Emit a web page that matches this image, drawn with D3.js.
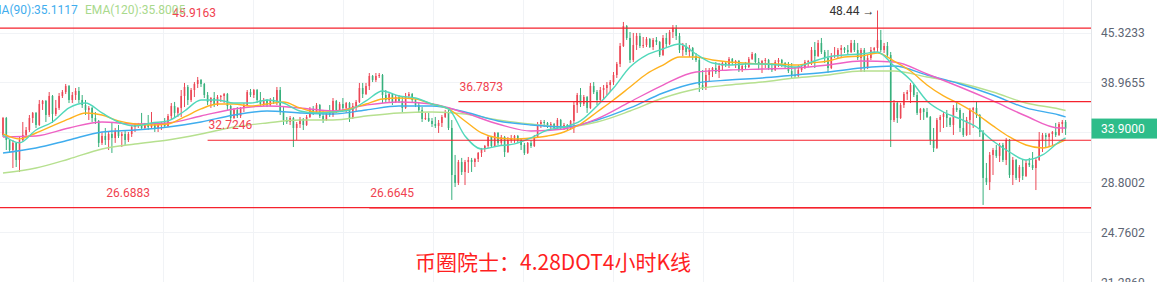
<!DOCTYPE html>
<html>
<head>
<meta charset="utf-8">
<script src="https://cdn.jsdelivr.net/npm/d3@7/dist/d3.min.js"></script>
<style>
    html, body { margin: 0; padding: 0; background: #fff; }
    svg { display: block; font-family: Roboto, "Noto Sans", sans-serif; }
</style>
</head>
<body>
<div id="chart"></div>
<script>
// 4h candles, oldest first
var opens = [
    33.25, 35.00, 32.75, 31.77, 32.46, 30.83, 32.75, 33.25, 33.75, 35.00,
    35.54, 34.27, 36.51, 36.85, 35.32, 37.41, 35.43, 36.08, 37.41, 37.86,
    38.55, 36.96, 37.52, 37.98, 36.96, 36.40, 35.86, 36.08, 35.00, 34.69,
    32.46, 33.15, 32.75, 33.35, 32.95, 33.65, 33.15, 33.35, 32.75, 33.35,
    34.06, 34.27, 34.37, 33.96, 34.27, 34.06, 34.37, 33.96, 34.27, 34.48,
    34.17, 35.21, 36.29, 35.54, 36.08, 37.41, 38.44, 36.96, 38.09, 38.79,
    39.26, 38.79, 37.52, 36.74, 37.18, 36.40, 37.29, 37.41, 37.63, 36.29,
    35.00, 35.86, 35.21, 36.08, 36.40, 37.86, 37.52, 38.09, 36.96, 36.51,
    36.96, 36.40, 36.96, 36.74, 38.09, 35.64, 34.79, 34.58, 35.00, 33.96,
    34.37, 34.90, 34.27, 35.11, 35.97, 35.64, 36.40, 35.21, 34.79, 35.54,
    35.32, 36.85, 35.86, 36.51, 36.08, 36.62, 35.00, 36.29, 36.74, 38.32,
    37.63, 38.55, 39.74, 39.26, 39.74, 39.86, 37.52, 36.96, 37.63, 36.74,
    37.29, 36.85, 36.08, 37.41, 37.63, 36.96, 36.40, 35.86, 34.90, 35.00,
    34.69, 34.37, 34.17, 34.48, 35.11, 35.64, 33.96, 29.46, 28.76, 30.64,
    29.73, 30.64, 30.83, 30.64, 30.92, 31.49, 31.87, 32.16, 33.05, 32.16,
    33.45, 32.46, 33.05, 31.58, 32.75, 32.95, 33.15, 32.75, 32.26, 31.49,
    32.46, 32.16, 33.05, 34.37, 34.58, 34.48, 34.06, 34.37, 33.96, 34.79,
    34.17, 34.27, 33.96, 34.69, 36.40, 37.52, 36.51, 37.29, 36.08, 38.55,
    37.86, 36.96, 38.09, 38.32, 38.67, 39.02, 39.86, 41.21, 43.51, 46.22,
    44.58, 41.71, 43.64, 44.85, 43.51, 43.64, 44.44, 43.38, 44.31, 44.04,
    42.34, 44.58, 43.77, 45.39, 45.95, 44.85, 42.99, 43.51, 42.73, 43.25,
    42.21, 41.71, 38.67, 38.32, 39.86, 40.46, 40.71, 40.22, 40.96, 41.33,
    41.08, 41.84, 41.33, 41.58, 40.46, 40.96, 40.83, 41.84, 42.47, 41.46,
    41.21, 41.58, 41.71, 40.71, 40.46, 41.46, 41.71, 41.33, 40.96, 40.34,
    39.86, 39.74, 40.46, 40.71, 41.46, 41.58, 42.99, 42.21, 43.91, 42.73,
    41.96, 40.71, 42.21, 42.34, 42.99, 43.25, 42.99, 42.73, 43.91, 42.99,
    41.96, 42.99, 40.71, 41.96, 42.99, 43.25, 44.31, 42.99, 43.51, 42.34,
    34.79, 36.62, 35.00, 36.40, 37.63, 37.86, 38.67, 37.52, 35.54, 35.97,
    35.64, 35.11, 32.75, 31.97, 34.79, 35.11, 35.43, 35.00, 34.27, 36.08,
    35.86, 33.96, 33.25, 34.79, 35.86, 36.08, 35.32, 33.55, 29.20, 28.84,
    31.30, 31.77, 31.21, 32.26, 30.83, 32.75, 29.46, 30.83, 29.20, 30.18,
    29.37, 30.55, 30.36, 30.09, 30.83, 32.75, 33.25, 33.05, 33.35, 33.55,
    33.25, 34.37, 34.58
];
var highs = [
    35.11, 35.11, 32.85, 32.75, 32.55, 33.05, 34.58, 34.06, 35.32, 35.64,
    35.64, 36.96, 36.96, 36.96, 37.86, 37.52, 36.96, 37.75, 38.09, 38.79,
    38.67, 37.86, 38.32, 38.44, 37.52, 36.96, 36.29, 36.18, 35.64, 34.79,
    33.55, 33.96, 33.55, 34.48, 33.96, 34.27, 33.55, 33.75, 33.55, 34.27,
    34.48, 34.48, 35.54, 34.48, 35.32, 35.64, 34.58, 34.48, 34.58, 35.00,
    35.43, 36.62, 36.74, 36.18, 38.09, 38.91, 38.67, 38.32, 39.02, 39.62,
    39.38, 38.91, 37.86, 37.29, 37.86, 37.52, 37.52, 37.75, 37.75, 36.40,
    36.08, 36.18, 36.18, 36.62, 38.09, 38.21, 38.21, 38.21, 37.86, 37.18,
    37.07, 37.18, 37.29, 38.44, 38.44, 36.18, 35.11, 35.21, 35.11, 34.58,
    35.11, 35.00, 35.32, 36.18, 36.29, 36.62, 36.51, 35.86, 35.64, 36.40,
    37.18, 36.96, 36.74, 37.18, 36.74, 36.74, 36.62, 36.96, 38.91, 38.91,
    38.91, 40.10, 39.86, 40.10, 40.10, 39.98, 38.09, 37.86, 37.75, 37.52,
    37.52, 37.29, 37.75, 37.86, 37.75, 37.07, 36.74, 36.18, 35.54, 35.54,
    35.00, 35.11, 34.79, 35.32, 35.86, 35.86, 34.79, 31.30, 30.83, 31.02,
    30.83, 31.11, 31.02, 31.02, 31.58, 31.97, 32.26, 33.25, 33.15, 33.55,
    33.55, 33.25, 33.15, 33.05, 33.25, 33.25, 33.25, 32.95, 32.46, 32.55,
    32.75, 33.25, 34.58, 34.79, 34.79, 34.58, 34.58, 34.48, 35.00, 34.90,
    34.48, 34.37, 34.79, 36.74, 37.75, 38.32, 37.52, 37.41, 38.91, 39.02,
    38.09, 38.44, 38.67, 39.02, 39.26, 40.22, 41.46, 43.91, 46.79, 46.36,
    45.39, 45.26, 45.26, 45.26, 44.71, 44.71, 44.58, 44.58, 44.71, 44.18,
    44.98, 45.26, 45.67, 46.36, 46.36, 45.26, 43.91, 43.91, 43.64, 43.38,
    42.60, 41.96, 40.46, 40.71, 40.71, 40.83, 41.46, 41.33, 41.46, 41.46,
    42.09, 41.96, 41.71, 41.71, 41.08, 41.46, 42.09, 42.73, 42.60, 41.96,
    41.71, 41.96, 41.84, 41.33, 41.71, 41.96, 41.84, 41.46, 41.46, 41.33,
    40.83, 41.08, 41.08, 41.71, 41.71, 43.38, 44.04, 44.31, 44.58, 42.99,
    42.99, 42.60, 43.38, 43.25, 43.64, 43.38, 43.64, 44.31, 44.31, 43.91,
    43.25, 43.25, 42.34, 43.38, 43.38, 48.44, 45.67, 43.91, 44.04, 42.73,
    36.96, 36.74, 36.62, 37.86, 38.09, 38.91, 38.79, 37.86, 36.08, 36.08,
    36.08, 35.21, 33.96, 35.00, 35.32, 35.64, 35.86, 35.11, 36.40, 36.62,
    36.08, 35.54, 35.11, 36.08, 36.18, 36.74, 35.43, 33.75, 30.55, 31.58,
    31.97, 32.26, 32.46, 32.46, 32.95, 32.85, 31.11, 30.92, 30.36, 30.83,
    30.83, 31.02, 31.58, 31.02, 33.55, 33.45, 33.45, 33.45, 33.65, 34.48,
    34.58, 34.79, 34.79
];
var lows = [
    33.05, 31.77, 31.49, 30.09, 30.18, 29.73, 32.55, 33.05, 33.55, 34.48,
    33.96, 34.17, 35.86, 34.58, 35.11, 34.48, 35.21, 35.86, 37.18, 37.63,
    36.62, 36.62, 36.96, 36.62, 36.08, 35.32, 34.79, 34.58, 34.37, 32.06,
    32.26, 32.26, 31.77, 31.49, 32.46, 32.95, 32.06, 32.26, 32.55, 33.05,
    33.55, 33.96, 33.75, 33.75, 33.75, 33.96, 33.55, 33.55, 33.75, 34.06,
    34.06, 34.79, 35.11, 35.11, 35.11, 36.18, 36.40, 36.74, 37.29, 38.32,
    38.44, 37.18, 36.40, 36.08, 36.18, 36.29, 36.74, 36.62, 35.86, 34.79,
    34.90, 35.00, 35.00, 35.64, 36.29, 37.29, 37.18, 36.62, 36.18, 36.29,
    36.18, 36.29, 36.51, 36.40, 35.32, 34.27, 34.37, 34.27, 32.06, 32.75,
    33.96, 33.75, 34.17, 35.00, 35.32, 35.43, 35.00, 34.48, 34.69, 35.11,
    35.11, 35.54, 35.75, 35.86, 35.54, 34.58, 34.90, 35.64, 36.62, 37.18,
    37.52, 38.09, 39.02, 39.02, 39.50, 36.62, 36.62, 36.74, 36.40, 36.62,
    36.62, 35.64, 35.97, 37.18, 36.74, 36.18, 35.54, 34.58, 34.79, 34.58,
    34.06, 33.96, 33.45, 34.06, 35.00, 33.75, 27.32, 28.41, 28.58, 29.46,
    28.58, 29.64, 29.73, 30.18, 30.64, 31.11, 31.58, 31.97, 31.97, 32.06,
    32.26, 32.26, 31.11, 31.49, 32.46, 32.46, 32.46, 31.77, 31.30, 31.39,
    31.97, 32.06, 32.95, 33.96, 34.06, 33.96, 33.75, 33.75, 33.85, 33.75,
    33.75, 33.75, 33.75, 33.45, 35.54, 36.18, 36.29, 35.54, 35.97, 37.63,
    36.40, 36.85, 36.96, 37.52, 37.86, 38.67, 39.50, 40.83, 43.38, 44.31,
    41.33, 41.46, 42.99, 43.25, 43.25, 43.38, 43.25, 42.99, 43.64, 42.09,
    42.21, 43.38, 43.64, 44.58, 44.31, 42.60, 42.21, 42.34, 42.09, 41.71,
    41.46, 37.86, 38.09, 38.09, 39.02, 39.62, 39.98, 39.50, 40.46, 40.83,
    40.71, 41.08, 40.71, 40.22, 40.22, 40.58, 40.71, 41.71, 41.21, 40.46,
    40.10, 40.71, 40.46, 40.22, 40.34, 40.83, 40.83, 40.71, 40.10, 39.50,
    39.50, 39.62, 40.22, 40.58, 40.83, 41.08, 40.71, 42.09, 42.47, 41.33,
    40.10, 40.58, 41.96, 41.96, 42.09, 42.60, 42.34, 42.60, 42.73, 41.71,
    40.22, 40.22, 40.58, 41.71, 42.60, 42.73, 42.73, 42.60, 42.09, 32.06,
    34.58, 34.48, 34.90, 36.08, 36.96, 36.62, 37.29, 35.32, 34.79, 34.79,
    35.00, 32.26, 31.58, 31.87, 33.55, 33.96, 34.06, 34.06, 33.25, 35.64,
    33.55, 33.05, 33.15, 33.25, 33.96, 35.00, 33.05, 26.91, 28.58, 28.15,
    29.46, 31.02, 30.64, 30.64, 30.36, 29.20, 28.58, 29.02, 28.84, 29.02,
    29.28, 30.18, 29.91, 28.15, 30.74, 31.58, 31.97, 32.06, 32.26, 33.05,
    33.15, 33.45, 33.25
];
var closes = [
    35.00, 32.75, 31.77, 32.46, 30.83, 32.75, 33.25, 33.75, 35.00, 35.54,
    34.27, 36.51, 36.85, 35.32, 37.41, 35.43, 36.08, 37.41, 37.86, 38.55,
    36.96, 37.52, 37.98, 36.96, 36.40, 35.86, 36.08, 35.00, 34.69, 32.46,
    33.15, 32.75, 33.35, 32.95, 33.65, 33.15, 33.35, 32.75, 33.35, 34.06,
    34.27, 34.37, 33.96, 34.27, 34.06, 34.37, 33.96, 34.27, 34.48, 34.17,
    35.21, 36.29, 35.54, 36.08, 37.41, 38.44, 36.96, 38.09, 38.79, 39.26,
    38.79, 37.52, 36.74, 37.18, 36.40, 37.29, 37.41, 37.63, 36.29, 35.00,
    35.86, 35.21, 36.08, 36.40, 37.86, 37.52, 38.09, 36.96, 36.51, 36.96,
    36.40, 36.96, 36.74, 38.09, 35.64, 34.79, 34.58, 35.00, 33.96, 34.37,
    34.90, 34.27, 35.11, 35.97, 35.64, 36.40, 35.21, 34.79, 35.54, 35.32,
    36.85, 35.86, 36.51, 36.08, 36.62, 35.00, 36.29, 36.74, 38.32, 37.63,
    38.55, 39.74, 39.26, 39.74, 39.86, 37.52, 36.96, 37.63, 36.74, 37.29,
    36.85, 36.08, 37.41, 37.63, 36.96, 36.40, 35.86, 34.90, 35.00, 34.69,
    34.37, 34.17, 34.48, 35.11, 35.64, 33.96, 29.46, 28.76, 30.64, 29.73,
    30.64, 30.83, 30.64, 30.92, 31.49, 31.87, 32.16, 33.05, 32.16, 33.45,
    32.46, 33.05, 31.58, 32.75, 32.95, 33.15, 32.75, 32.26, 31.49, 32.46,
    32.16, 33.05, 34.37, 34.58, 34.48, 34.06, 34.37, 33.96, 34.79, 34.17,
    34.27, 33.96, 34.69, 36.40, 37.52, 36.51, 37.29, 36.08, 38.55, 37.86,
    36.96, 38.09, 38.32, 38.67, 39.02, 39.86, 41.21, 43.51, 46.22, 44.58,
    41.71, 43.64, 44.85, 43.51, 43.64, 44.44, 43.38, 44.31, 44.04, 42.34,
    44.58, 43.77, 45.39, 45.95, 44.85, 42.99, 43.51, 42.73, 43.25, 42.21,
    41.71, 38.67, 38.32, 39.86, 40.46, 40.71, 40.22, 40.96, 41.33, 41.08,
    41.84, 41.33, 41.58, 40.46, 40.96, 40.83, 41.84, 42.47, 41.46, 41.21,
    41.58, 41.71, 40.71, 40.46, 41.46, 41.71, 41.33, 40.96, 40.34, 39.86,
    39.74, 40.46, 40.71, 41.46, 41.58, 42.99, 42.21, 43.91, 42.73, 41.96,
    40.71, 42.21, 42.34, 42.99, 43.25, 42.99, 42.73, 43.91, 42.99, 41.96,
    42.99, 40.71, 41.96, 42.99, 43.25, 44.31, 42.99, 43.51, 42.34, 34.79,
    36.62, 35.00, 36.40, 37.63, 37.86, 38.67, 37.52, 35.54, 35.97, 35.64,
    35.11, 32.75, 31.97, 34.79, 35.11, 35.43, 35.00, 34.27, 36.08, 35.86,
    33.96, 33.25, 34.79, 35.86, 36.08, 35.32, 33.55, 29.20, 28.84, 31.30,
    31.77, 31.21, 32.26, 30.83, 32.75, 29.46, 30.83, 29.20, 30.18, 29.37,
    30.55, 30.36, 30.09, 30.83, 32.75, 33.25, 33.05, 33.35, 33.55, 33.25,
    34.37, 34.58, 33.90
];

// moving average lines, read at every 5th / 10th candle
var fastIdx = [0, 5, 10, 15, 20, 25, 30, 35, 40, 45, 50, 55, 60, 65, 70, 75, 80, 85, 90, 95,
    100, 105, 110, 115, 120, 125, 130, 135, 140, 145, 150, 155, 160, 165, 170, 175, 180, 185, 190, 195,
    200, 205, 210, 215, 220, 225, 230, 235, 240, 245, 250, 255, 260, 265, 270, 275, 280, 285, 290, 295,
    300, 305, 310, 315, 320, 322];
var slowIdx = [0, 10, 20, 30, 40, 50, 60, 70, 80, 90, 100, 110, 120, 130, 140, 150, 160, 170, 180, 190,
    200, 210, 220, 230, 240, 250, 260, 270, 280, 290, 300, 310, 320, 322];

var maTeal = [
    33.25, 32.46, 33.75, 34.58, 36.08, 36.62, 35.54, 34.58, 34.17, 34.48,
    34.69, 35.75, 36.96, 36.96, 36.62, 36.62, 36.96, 36.62, 35.75, 35.54,
    35.64, 35.86, 36.85, 37.98, 37.41, 37.18, 36.51, 35.97, 33.15, 31.87,
    32.16, 32.36, 32.95, 33.75, 34.06, 34.69, 36.29, 38.32, 40.83, 42.34,
    43.12, 43.77, 42.47, 41.33, 41.08, 41.21, 41.21, 41.08, 40.83, 41.46,
    42.09, 42.34, 42.47, 42.73, 40.96, 39.26, 36.85, 35.64, 34.90, 34.06,
    32.65, 31.58, 30.83, 31.30, 32.55, 32.95
];
var maOrange = [
    33.35, 32.85, 33.45, 34.17, 34.90, 35.54, 35.32, 34.69, 34.37, 34.27,
    34.37, 35.11, 35.97, 36.51, 36.51, 36.29, 36.51, 36.74, 36.08, 35.64,
    35.64, 35.97, 36.51, 37.07, 37.18, 37.07, 36.51, 35.97, 34.69, 33.45,
    32.95, 32.85, 32.95, 33.15, 33.55, 34.37, 35.64, 36.96, 38.44, 39.98,
    41.08, 42.09, 42.09, 41.71, 41.46, 41.33, 41.21, 41.21, 41.08, 41.33,
    41.58, 42.09, 42.21, 42.60, 41.58, 40.34, 38.67, 37.41, 36.51, 35.43,
    34.17, 33.05, 32.26, 31.97, 32.46, 32.75
];
var maPink = [
    33.05, 33.15, 33.96, 34.58, 34.37, 34.48, 35.21, 35.97, 36.29, 36.08,
    35.75, 36.40, 36.74, 36.51, 35.54, 34.37, 33.65, 33.85, 34.90, 36.74,
    38.67, 40.22, 40.46, 40.58, 40.71, 41.08, 41.58, 41.46, 39.98, 38.44,
    36.85, 35.21, 33.96, 33.96
];
var ma90 = [
    31.49, 31.97, 32.75, 33.55, 33.75, 34.06, 34.58, 35.32, 35.75, 35.54,
    35.43, 35.86, 36.29, 36.29, 35.64, 34.69, 34.27, 34.06, 34.79, 36.08,
    37.75, 38.91, 39.26, 39.50, 39.86, 40.22, 40.71, 40.96, 39.86, 38.79,
    37.52, 36.08, 35.32, 35.11
];
var ema120 = [
    29.64, 30.09, 30.92, 31.87, 32.36, 32.75, 33.35, 34.06, 34.48, 34.79,
    34.79, 35.21, 35.54, 35.64, 35.43, 34.79, 34.37, 34.06, 34.58, 35.75,
    37.18, 38.21, 38.67, 39.02, 39.50, 39.86, 40.34, 40.34, 39.62, 38.91,
    37.86, 36.62, 35.97, 35.80
];

var legendLabels = ["MA(90):35.1117", "EMA(120):35.8005"];

// price axis ticks (log spaced)
var priceTicks = [45.3233, 38.9655, 33.4995, 28.8002, 24.7602, 21.2860];

// drawn horizontal levels; null start = line across the whole chart
var levelValues = [45.9163, 36.7873, 32.7246, 26.6883, 26.6645];
var levelStart = [null, 138, 62, null, 111];
var levelLabelAt = [51, 138, 62, 31, 111];

var highNote = "48.44 \u2192";
var titleText = "币圈院士：4.28DOT4小时K线";

// layout
var width = 1157, height = 282;
var axisX = 1091;
var upColor = "#eb4755", downColor = "#37b07c";

var svg = d3.select("#chart").append("svg")
    .attr("width", width)
    .attr("height", height);

svg.append("rect").attr("width", width).attr("height", height).attr("fill", "#fff");

// scales
var xScale = d3.scaleLinear().domain([0, closes.length - 1]).range([3, 1065.6]);
var yScale = d3.scaleLog().domain([21.2860, 45.3233]).range([282.5, 32.5]);

// grid
var grid = svg.append("g").attr("class", "grid");
grid.selectAll(".vgrid")
    .data(d3.range(73, axisX, 90))
    .enter().append("line")
    .attr("x1", d => d + 0.5).attr("x2", d => d + 0.5)
    .attr("y1", 0).attr("y2", height)
    .attr("stroke", "#f1f3f6");
grid.selectAll(".hgrid")
    .data(priceTicks)
    .enter().append("line")
    .attr("x1", 0).attr("x2", axisX)
    .attr("y1", d => Math.round(yScale(d)) + 0.5)
    .attr("y2", d => Math.round(yScale(d)) + 0.5)
    .attr("stroke", "#f1f3f6");

// right axis
var yAxis = svg.append("g")
    .attr("transform", "translate(" + axisX + ",0)")
    .call(d3.axisRight(yScale).tickValues(priceTicks).tickFormat(d3.format(".4f")).tickSize(0).tickPadding(10));
yAxis.select(".domain").attr("stroke", "#e3e6ea").attr("d", "M0.5,0V" + height);
yAxis.selectAll("text")
    .attr("fill", "#5d6573")
    .style("font-size", "12px")
    .style("font-family", "Roboto, sans-serif");

// candles
var candleData = closes.map(function(c, i) {
    return { i: i, o: opens[i], h: highs[i], l: lows[i], c: c };
});
var candles = svg.append("g").attr("class", "candles");
candles.selectAll(".wick")
    .data(candleData)
    .enter().append("line")
    .attr("x1", d => xScale(d.i)).attr("x2", d => xScale(d.i))
    .attr("y1", d => yScale(d.h)).attr("y2", d => yScale(d.l))
    .attr("stroke", d => d.c >= d.o ? upColor : downColor)
    .attr("stroke-width", 1);
candles.selectAll(".body")
    .data(candleData)
    .enter().append("rect")
    .attr("x", d => xScale(d.i) - 0.8)
    .attr("width", 1.6)
    .attr("y", d => yScale(Math.max(d.o, d.c)))
    .attr("height", d => Math.max(1, yScale(Math.min(d.o, d.c)) - yScale(Math.max(d.o, d.c))))
    .attr("fill", d => d.c >= d.o ? upColor : downColor);

// moving averages
function drawLine(idx, values, color) {
    var line = d3.line()
        .x((d, k) => xScale(idx[k]))
        .y(d => yScale(d))
        .curve(d3.curveMonotoneX);
    svg.append("path")
        .datum(values)
        .attr("d", line)
        .attr("fill", "none")
        .attr("stroke", color)
        .attr("stroke-width", 1.4);
}
drawLine(slowIdx, ema120, "#b6e08f");
drawLine(slowIdx, ma90, "#3fadee");
drawLine(slowIdx, maPink, "#ee62c4");
drawLine(fastIdx, maOrange, "#ffb21f");
drawLine(fastIdx, maTeal, "#52d8bb");

// horizontal levels
var levels = svg.append("g").attr("class", "levels");
levelValues.forEach(function(v, k) {
    var yy = yScale(v);
    var x0 = levelStart[k] === null ? 0 : xScale(levelStart[k]);
    levels.append("line")
        .attr("x1", x0).attr("x2", axisX)
        .attr("y1", yy).attr("y2", yy)
        .attr("stroke", "#f5222d")
        .attr("stroke-width", 1.2);
    levels.append("text")
        .attr("x", xScale(levelLabelAt[k]) + 1)
        .attr("y", yy - 11)
        .attr("fill", "#f0424f")
        .style("font-size", "12px")
        .text(v.toFixed(4));
});

// highest price note
var hiIdx = d3.maxIndex(highs);
svg.append("text")
    .attr("x", xScale(hiIdx) - 3)
    .attr("y", yScale(highs[hiIdx]) + 4)
    .attr("text-anchor", "end")
    .attr("fill", "#333")
    .style("font-size", "12px")
    .text(highNote);

// legend (scrolled partly off the left edge)
var legend = svg.append("g").attr("class", "legend");
legend.append("text")
    .attr("x", -9).attr("y", 14)
    .attr("fill", "#3fadee")
    .style("font-size", "12px")
    .text(legendLabels[0]);
legend.append("text")
    .attr("x", 85).attr("y", 14)
    .attr("fill", "#a9d98c")
    .style("font-size", "12px")
    .text(legendLabels[1]);

// last price tag
var last = closes[closes.length - 1];
var lastY = yScale(last);
svg.append("rect")
    .attr("x", axisX + 0.5).attr("y", lastY - 10)
    .attr("width", width - axisX).attr("height", 20)
    .attr("fill", "#2ebd8a");
svg.append("text")
    .attr("x", axisX + 10).attr("y", lastY + 4.5)
    .attr("fill", "#fff")
    .style("font-size", "12px")
    .text(last.toFixed(4));

// title
svg.append("text")
    .attr("x", 415).attr("y", 270)
    .attr("fill", "#ff1f1f")
    .style("font-size", "21px")
    .style("font-family", "'Noto Sans CJK SC', 'Noto Sans', sans-serif")
    .text(titleText);
</script>
</body>
</html>
